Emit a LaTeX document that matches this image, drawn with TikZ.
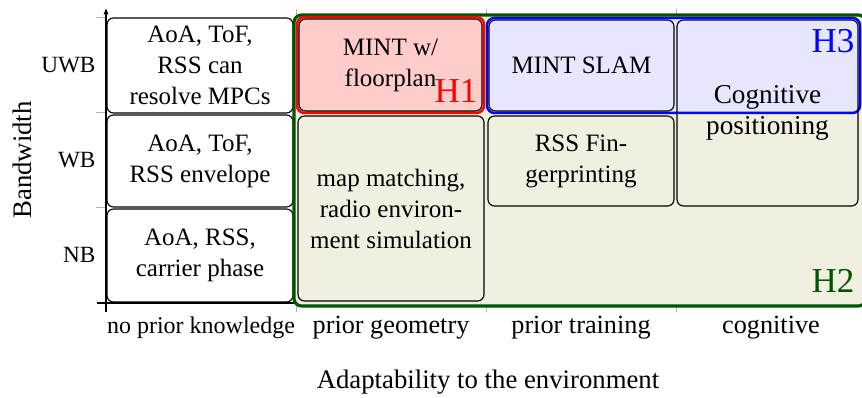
\documentclass[tikz,border=0pt]{standalone}
\usepackage{fontspec}
\setmainfont{Liberation Serif}
\newfontfamily\tms{Liberation Serif}
\usetikzlibrary{fit,arrows.meta}
\definecolor{beige}{RGB}{241,239,224}
\definecolor{hgreen}{RGB}{0,85,0}
\definecolor{hred}{RGB}{255,0,0}
\definecolor{hblue}{RGB}{0,0,255}
\definecolor{redfill}{RGB}{255,204,204}
\definecolor{bluefill}{RGB}{230,230,255}
\begin{document}
\begin{tikzpicture}[x=0.4pt,y=-0.4pt,
  cell/.style={draw=black, line width=0.45pt, rounded corners=2.6pt, inner sep=0pt,
    align=center, font=\tms\fontsize{10}{12.4}\selectfont},
  hyp/.style={rounded corners=3pt, inner sep=0pt},
  hlabel/.style={font=\tms\fontsize{14}{16}\selectfont, inner sep=0pt, anchor=base east},
  ytick/.style={font=\tms\fontsize{9.3}{11}\selectfont, inner sep=0pt, anchor=base east},
  xtick/.style={font=\tms\fontsize{10.5}{12}\selectfont, inner sep=0pt, anchor=base},
  axlabel/.style={font=\tms\fontsize{10.7}{12}\selectfont, inner sep=0pt, anchor=base},
  tickline/.style={draw=gray!60, line width=0.4pt},
  axisline/.style={draw=black, line width=0.45pt}
]
\useasboundingbox (0,0) rectangle (862,398);

% tick marks
\foreach \yy in {18,113,208} \draw[tickline] (96,\yy) -- (106,\yy);
\foreach \xx in {296,486,676} {
  \draw[tickline] (\xx,9) -- (\xx,18);
  \draw[tickline] (\xx,303) -- (\xx,312);
}

% axes
\coordinate (yb) at (106,312);
\coordinate (yt) at (106,8);
\coordinate (xl) at (97,303);
\coordinate (xr) at (866,303);
\draw[axisline] (xl) -- (xr);
\draw[axisline, -{Latex[length=2.6pt,width=2.2pt]}] (yb) -- (yt);

% first column
\node[cell, minimum width=74.4pt, minimum height=38pt] (c11) at (200,65.5) {AoA, ToF,\\RSS can\\resolve MPCs};
\node[cell, minimum width=74.4pt, minimum height=36.8pt] (c12) at (200,161) {AoA, ToF,\\RSS envelope};
\node[cell, minimum width=74.4pt, minimum height=37.2pt] (c13) at (200,255.5) {AoA, RSS,\\carrier phase};

% H2 region
\node[hyp, draw=hgreen, fill=beige, line width=1.25pt, fit={(294,15) (866,306)}] (h2) {};

% H1 region
\node[hyp, draw=hred, fill=redfill, line width=1pt, fit={(297,17) (484,113)}] (h1) {};
% H3 region
\node[hyp, draw=hblue, fill=bluefill, line width=1pt, fit={(487,18) (860,113)}] (h3) {};

% cells
\node[cell, minimum width=73.2pt, minimum height=36.8pt] (mint) at (390.5,65) {MINT w/\\floorplan};
\node[cell, minimum width=74.4pt, minimum height=74pt, fill=beige] (map) at (391,208.5) {map matching,\\radio environ-\\ment simulation};
\node[cell, minimum width=74pt, minimum height=36.4pt] (slam) at (581.5,65.5) {MINT SLAM};
\node[cell, minimum width=74.4pt, minimum height=36pt, fill=beige] (rss) at (581,161) {RSS Fin-\\gerprinting};
\node[cell, minimum width=72.4pt, minimum height=74.4pt, font=\tms\fontsize{10.9}{12.6}\selectfont] (cog) at (767.5,113) {Cognitive\\positioning};

% region labels
\node[hlabel, text=hred] (lh1) at (478,103) {H1};
\node[hlabel, text=hblue] (lh3) at (855,53) {H3};
\node[hlabel, text=hgreen] (lh2) at (855,293) {H2};

% tick labels
\node[ytick] (uwb) at (96,73) {UWB};
\node[ytick] (wb) at (96,168) {WB};
\node[ytick] (nb) at (96,263) {NB};
\node[xtick, font=\tms\fontsize{9.6}{11}\selectfont] (t1) at (201,334) {no prior knowledge};
\node[xtick] (t2) at (391,334) {prior geometry};
\node[xtick] (t3) at (581,334) {prior training};
\node[xtick] (t4) at (771,334) {cognitive};

% axis labels
\node[axlabel] (xlab) at (488,389) {Adaptability to the environment};
\node[axlabel, rotate=90] (ylab) at (32,160) {Bandwidth};
\end{tikzpicture}
\end{document}
